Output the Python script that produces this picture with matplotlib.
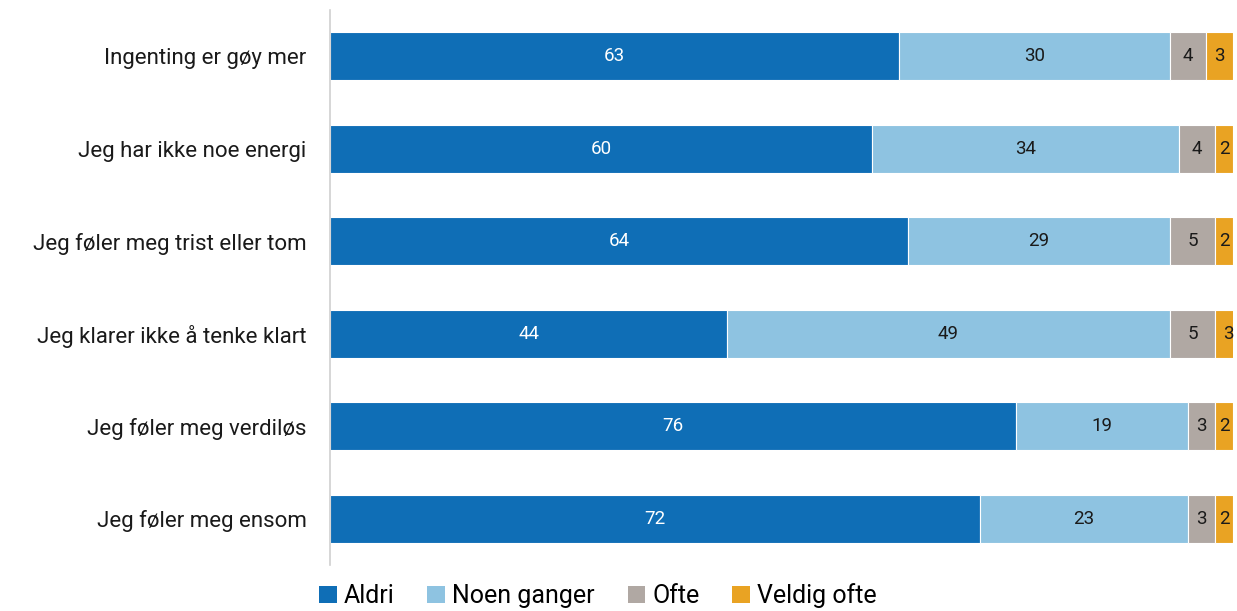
import matplotlib
matplotlib.use("Agg")
import matplotlib.pyplot as plt
from matplotlib.patches import Patch

plt.rcParams['font.family'] = ['Roboto', 'DejaVu Sans']

categories = [
    "Ingenting er gøy mer",
    "Jeg har ikke noe energi",
    "Jeg føler meg trist eller tom",
    "Jeg klarer ikke å tenke klart",
    "Jeg føler meg verdiløs",
    "Jeg føler meg ensom",
]
series_names = ["Aldri", "Noen ganger", "Ofte", "Veldig ofte"]
aldri = [63, 60, 64, 44, 76, 72]
noen_ganger = [30, 34, 29, 49, 19, 23]
ofte = [4, 4, 5, 5, 3, 3]
veldig_ofte = [3, 2, 2, 3, 2, 2]

series = [aldri, noen_ganger, ofte, veldig_ofte]
colors = ["#0f6eb6", "#8ec3e1", "#b0a8a3", "#e9a323"]
text_colors = ["white", "#1a1a1a", "#1a1a1a", "#1a1a1a"]

fig = plt.figure(figsize=(12.37, 6.11), dpi=100)
ax = fig.add_axes([330 / 1237, 46 / 611, 903 / 1237, 555 / 611])

y = list(range(len(categories)))
left = [0] * len(categories)
for vals, col, tcol in zip(series, colors, text_colors):
    bars = ax.barh(y, vals, left=left, height=0.52, color=col,
                   edgecolor="white", linewidth=0.8)
    for b, v in zip(bars, vals):
        ax.text(b.get_x() + b.get_width() / 2, b.get_y() + b.get_height() / 2,
                f"{v}", ha="center", va="center", color=tcol, fontsize=13.5)
    left = [l + v for l, v in zip(left, vals)]

ax.set_xlim(0, 100)
ax.set_ylim(len(categories) - 0.5, -0.5)
ax.set_yticks(y)
ax.set_yticklabels(categories, fontsize=16, color="#1a1a1a")
ax.tick_params(axis="y", length=0, pad=17)
ax.set_xticks([])
for s in ["top", "right", "bottom"]:
    ax.spines[s].set_visible(False)
ax.spines["left"].set_color("#d0d0d0")
ax.spines["left"].set_linewidth(1.2)

handles = [Patch(facecolor=c, edgecolor="none") for c in colors]
fig.legend(handles, series_names, loc="center", ncol=4,
           bbox_to_anchor=(598 / 1237, 15 / 611), frameon=False,
           fontsize=18, handlelength=0.7, handleheight=0.7,
           handletextpad=0.3, columnspacing=1.3)

fig.savefig("out.png", dpi=100)
